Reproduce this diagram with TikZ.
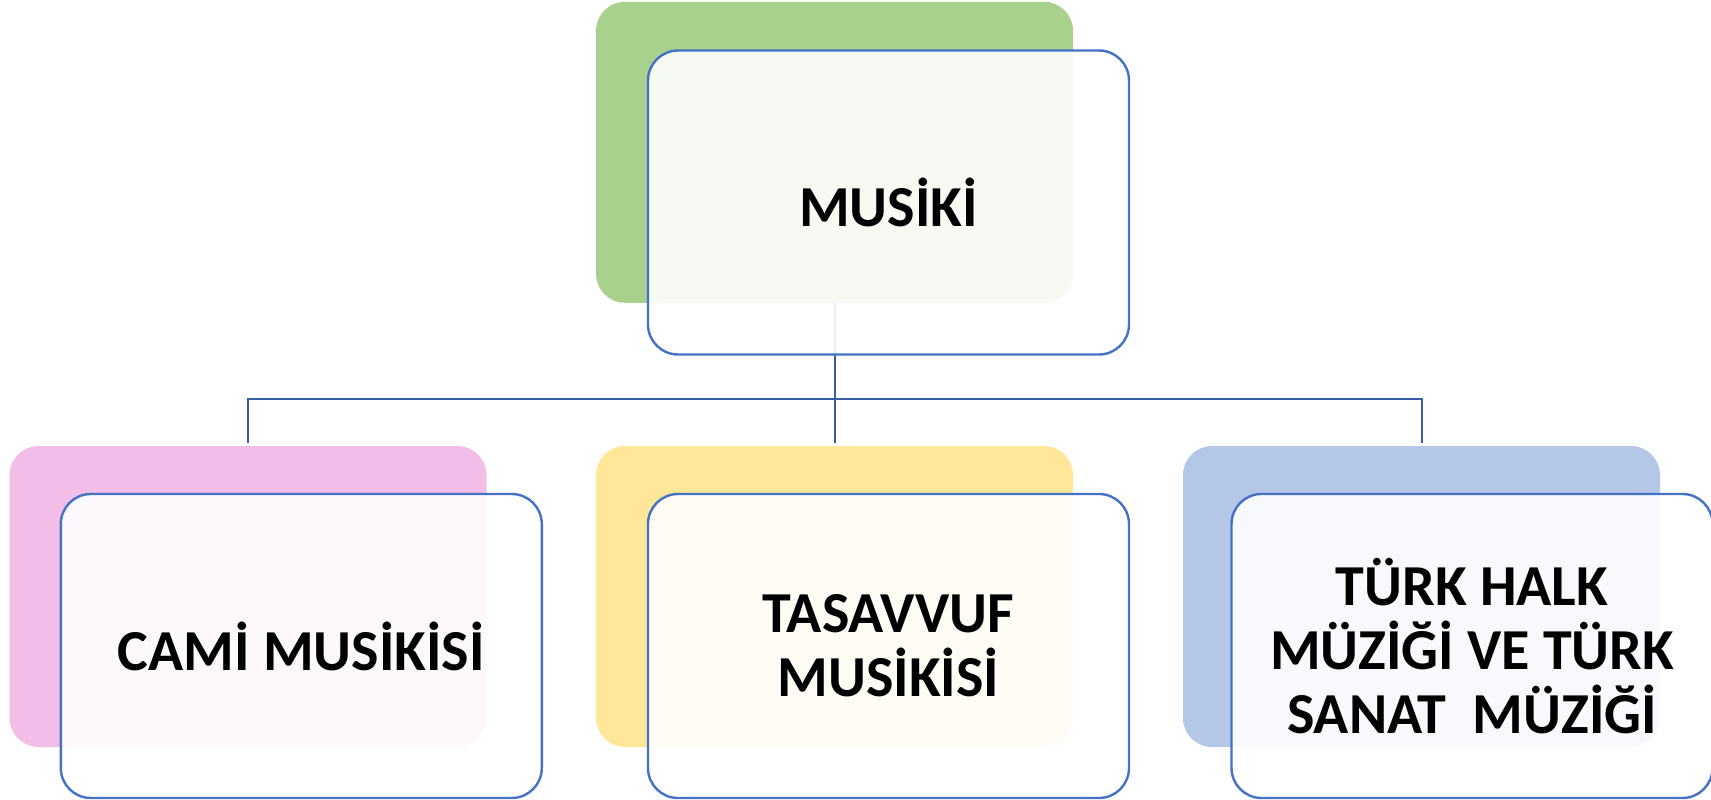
\documentclass[tikz,border=0pt]{standalone}
\usepackage{fontspec}
\setmainfont{Carlito}
\definecolor{cgreen}{HTML}{A9D18E}
\definecolor{cpink}{HTML}{F2BEE7}
\definecolor{cyellow}{HTML}{FFE699}
\definecolor{cblue}{HTML}{B4C7E7}
\definecolor{cborder}{HTML}{4472C4}
\definecolor{cconn}{HTML}{3A5EA6}
\tikzset{
  backbox/.style={rectangle, rounded corners=29pt, minimum width=477pt, minimum height=301pt, inner sep=0pt, draw=none},
  frontbox/.style={rectangle, rounded corners=30pt, minimum width=481pt, minimum height=304pt, inner sep=0pt,
    draw=cborder, line width=2.4pt, fill=white, fill opacity=0.9, text opacity=1,
    font=\bfseries\fontsize{58}{64}\selectfont, align=center},
  conn/.style={draw=cconn, line width=2pt}
}
\begin{document}
\begin{tikzpicture}[x=1pt,y=-1pt]
\useasboundingbox (0,0) rectangle (1711,800);
% back boxes
\node[backbox, fill=cgreen]  (gb) at (834.5,152.3) {};
\node[backbox, fill=cpink]   (pb) at (248,596.5) {};
\node[backbox, fill=cyellow] (yb) at (834.5,596.5) {};
\node[backbox, fill=cblue]   (bb) at (1421.5,596.5) {};
% connectors
\coordinate (bus) at (834.5,399);
\draw[conn] (gb.south) -- ([yshift=3pt]yb.north);
\draw[conn] ([yshift=3pt]pb.north) |- (bus) -| ([yshift=3pt]bb.north);
% front boxes
\node[frontbox] (gf) at (888.5,202.5) {MUSİKİ};
\node[frontbox] (pf) at (301.3,646) {CAMİ MUSİKİSİ};
\node[frontbox] (yf) at (888.5,646) {TASAVVUF\\MUSİKİSİ};
\node[frontbox] (bf) at (1472,646) {TÜRK HALK\\MÜZİĞİ VE TÜRK\\SANAT\ \ MÜZİĞİ};
\end{tikzpicture}
\end{document}
